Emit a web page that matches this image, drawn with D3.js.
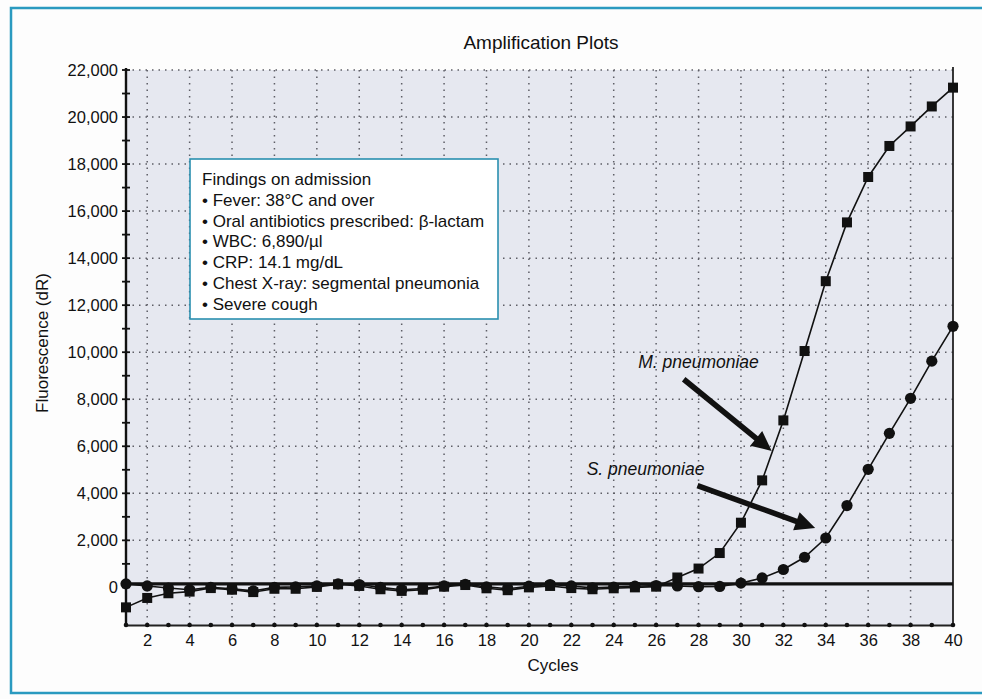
<!DOCTYPE html>
<html>
<head>
<meta charset="utf-8">
<script src="https://cdn.jsdelivr.net/npm/d3@7"></script>
<style>
  body { margin: 0; background: #fdfdfd; }
  svg { display: block; font-family: "Liberation Sans", Arial, sans-serif; }
</style>
</head>
<body>
<div id="chart"></div>
<script>
// cycles 1..40
const cycles = d3.range(1, 41)

// M. pneumoniae (square markers)
const mPneumoniae = [-850, -450, -250, -180, -30, -100, -200, -60, -60, 20,
    130, 60, -80, -150, -100, 30, 100, -40, -120, 0,
    60, -30, -80, -40, 0, 30, 420, 800, 1460, 2750,
    4550, 7100, 10050, 13020, 15520, 17450, 18770, 19600, 20450, 21250]

// S. pneumoniae (circle markers)
const sPneumoniae = [150, 60, -30, -100, 0, -60, -150, 0, 20, 60,
    150, 120, 0, -100, -50, 60, 130, 20, -60, 50,
    120, 60, -20, 10, 50, 80, 60, 30, 40, 180,
    400, 760, 1280, 2100, 3480, 5020, 6550, 8040, 9620, 11100]

const threshold = 150

const yTicks = d3.range(0, 22001, 2000)
const xTicks = d3.range(2, 41, 2)

const findings = [
    "Findings on admission",
    "\u2022 Fever: 38\u00B0C and over",
    "\u2022 Oral antibiotics prescribed: \u03B2-lactam",
    "\u2022 WBC: 6,890/\u00B5l",
    "\u2022 CRP: 14.1 mg/dL",
    "\u2022 Chest X-ray: segmental pneumonia",
    "\u2022 Severe cough"
]

// annotation labels and arrows, in data units (cycle, fluorescence)
const annoLabels = ["M. pneumoniae", "S. pneumoniae"]
const annoLabelPos = [[28.0, 9320], [25.5, 4770]]
const annoArrowFrom = [[27.3, 8850], [27.95, 4330]]
const annoArrowTo = [[31.45, 5800], [33.5, 2520]]

const W = 982, H = 699
const svg = d3.select("#chart").append("svg")
    .attr("width", W).attr("height", H)

// outer frame
svg.append("rect")
    .attr("x", 11).attr("y", 8)
    .attr("width", W + 20).attr("height", 685)
    .attr("fill", "none")
    .attr("stroke", "#2a9ac0")
    .attr("stroke-width", 2.5)

const x = d3.scaleLinear().domain([1, 40]).range([126, 953])
const y = d3.scaleLinear().domain([-1600, 22000]).range([625, 70])

// plot background
svg.append("rect")
    .attr("x", x(1)).attr("y", y(22000))
    .attr("width", x(40) - x(1)).attr("height", y(-1600) - y(22000))
    .attr("fill", "#e6e8f0")

// dotted grid
const grid = svg.append("g")
    .attr("stroke", "#5e5e66")
    .attr("stroke-width", 1.5)
    .attr("stroke-dasharray", "1.5,5")
grid.selectAll(".gy").data(yTicks.filter(d => d > 0))
    .enter().append("line")
    .attr("x1", x(1)).attr("x2", x(40))
    .attr("y1", d => y(d)).attr("y2", d => y(d))
grid.selectAll(".gx").data(xTicks.filter(d => d < 40))
    .enter().append("line")
    .attr("x1", d => x(d)).attr("x2", d => x(d))
    .attr("y1", y(22000)).attr("y2", y(-1600))

// right border of plot
svg.append("line")
    .attr("x1", x(40)).attr("x2", x(40))
    .attr("y1", y(22000) - 3).attr("y2", y(-1600))
    .attr("stroke", "#222").attr("stroke-width", 1.8)

// y axis
const yAxis = svg.append("g")
    .attr("transform", `translate(${x(1)},0)`)
    .call(d3.axisLeft(y).tickValues(yTicks).tickFormat(d3.format(",")).tickSize(0).tickPadding(8))
yAxis.select(".domain").remove()
yAxis.selectAll("text").attr("font-size", 16.5).attr("fill", "#111")
    .attr("font-family", "'Liberation Sans', Arial, sans-serif")
svg.append("line")
    .attr("x1", x(1)).attr("x2", x(1))
    .attr("y1", y(22000) - 2).attr("y2", y(-1600))
    .attr("stroke", "#111").attr("stroke-width", 2.4)
svg.append("g").selectAll("line")
    .data(d3.range(-1000, 22001, 1000))
    .enter().append("line")
    .attr("x1", x(1) - 4).attr("x2", x(1) + 4)
    .attr("y1", d => y(d)).attr("y2", d => y(d))
    .attr("stroke", "#111").attr("stroke-width", 1.8)

// x axis
const xAxis = svg.append("g")
    .attr("transform", `translate(0,${y(-1600)})`)
    .call(d3.axisBottom(x).tickValues(xTicks).tickSize(0).tickPadding(9))
xAxis.select(".domain").attr("stroke", "#222").attr("stroke-width", 1.8)
xAxis.selectAll("text").attr("font-size", 16.5).attr("fill", "#111")
    .attr("font-family", "'Liberation Sans', Arial, sans-serif")
svg.append("g").selectAll("circle")
    .data(cycles)
    .enter().append("circle")
    .attr("cx", d => x(d)).attr("cy", y(-1600))
    .attr("r", 2.3).attr("fill", "#111")

// threshold line
svg.append("line")
    .attr("x1", x(1)).attr("x2", x(40))
    .attr("y1", y(threshold)).attr("y2", y(threshold))
    .attr("stroke", "#111").attr("stroke-width", 3.2)

const line = d3.line().x((d, i) => x(cycles[i])).y(d => y(d))

// S. pneumoniae
svg.append("path").datum(sPneumoniae)
    .attr("d", line).attr("fill", "none")
    .attr("stroke", "#111").attr("stroke-width", 1.6)
svg.append("g").selectAll("circle")
    .data(sPneumoniae)
    .enter().append("circle")
    .attr("cx", (d, i) => x(cycles[i])).attr("cy", d => y(d))
    .attr("r", 5.6).attr("fill", "#111")

// M. pneumoniae
svg.append("path").datum(mPneumoniae)
    .attr("d", line).attr("fill", "none")
    .attr("stroke", "#111").attr("stroke-width", 1.6)
svg.append("g").selectAll("rect")
    .data(mPneumoniae)
    .enter().append("rect")
    .attr("x", (d, i) => x(cycles[i]) - 5).attr("y", d => y(d) - 5)
    .attr("width", 10).attr("height", 10).attr("fill", "#111")

// annotations with arrows
annoLabels.forEach(function(label, i) {
    svg.append("text")
        .attr("x", x(annoLabelPos[i][0])).attr("y", y(annoLabelPos[i][1]))
        .attr("text-anchor", "middle")
        .attr("font-size", 17.5).attr("font-style", "italic")
        .attr("fill", "#111")
        .text(label)
    const x0 = x(annoArrowFrom[i][0]), y0 = y(annoArrowFrom[i][1])
    const x1 = x(annoArrowTo[i][0]), y1 = y(annoArrowTo[i][1])
    const len = Math.hypot(x1 - x0, y1 - y0)
    const ux = (x1 - x0) / len, uy = (y1 - y0) / len
    const px = -uy, py = ux
    const headL = 20, headW = 9.5, shaftW = 2.8
    const bx = x1 - ux * headL, by = y1 - uy * headL
    const pts = [
        [x0 + px * shaftW, y0 + py * shaftW],
        [bx + px * shaftW, by + py * shaftW],
        [bx + px * headW, by + py * headW],
        [x1, y1],
        [bx - px * headW, by - py * headW],
        [bx - px * shaftW, by - py * shaftW],
        [x0 - px * shaftW, y0 - py * shaftW]
    ]
    svg.append("polygon")
        .attr("points", pts.map(p => p.join(",")).join(" "))
        .attr("fill", "#111")
})

// findings box
const box = svg.append("g")
box.append("rect")
    .attr("x", 190).attr("y", 159)
    .attr("width", 308).attr("height", 160)
    .attr("fill", "#ffffff")
    .attr("stroke", "#2a8fb0").attr("stroke-width", 1.6)
box.selectAll("text").data(findings)
    .enter().append("text")
    .attr("x", 202)
    .attr("y", (d, i) => 185 + i * 20.8)
    .attr("font-size", 17).attr("fill", "#111")
    .text(d => d)

// title and axis labels
svg.append("text")
    .attr("x", 541).attr("y", 49)
    .attr("text-anchor", "middle")
    .attr("font-size", 19).attr("fill", "#111")
    .text("Amplification Plots")
svg.append("text")
    .attr("x", 553).attr("y", 671)
    .attr("text-anchor", "middle")
    .attr("font-size", 17).attr("fill", "#111")
    .text("Cycles")
svg.append("text")
    .attr("transform", "translate(48,343) rotate(-90)")
    .attr("text-anchor", "middle")
    .attr("font-size", 17).attr("fill", "#111")
    .text("Fluorescence (dR)")
</script>
</body>
</html>
